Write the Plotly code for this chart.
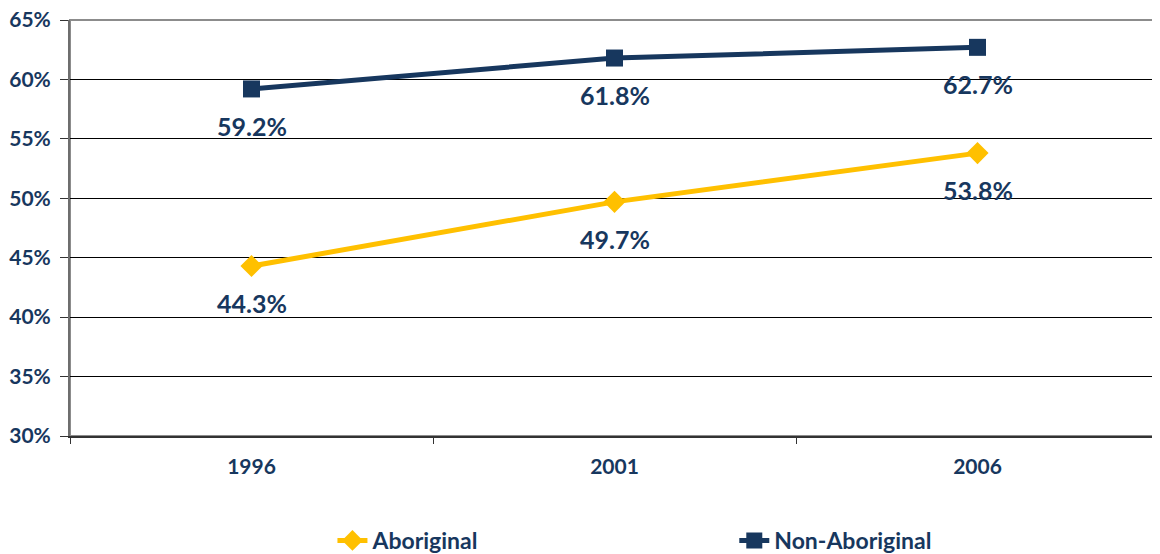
import plotly.graph_objects as go

# census years and rates (%)
years = ["1996", "2001", "2006"]
aboriginal = [44.3, 49.7, 53.8]
non_aboriginal = [59.2, 61.8, 62.7]
y_ticks = [30, 35, 40, 45, 50, 55, 60, 65]

NAVY = "#17375E"
GOLD = "#FFC000"
FONT = "Lato"

fig = go.Figure()

fig.add_trace(go.Scatter(
    x=years, y=aboriginal, name="Aboriginal", mode="lines+markers",
    line=dict(color=GOLD, width=5),
    marker=dict(symbol="diamond", size=17, color=GOLD),
    legend="legend",
))
fig.add_trace(go.Scatter(
    x=years, y=non_aboriginal, name="Non-Aboriginal", mode="lines+markers",
    line=dict(color=NAVY, width=5),
    marker=dict(symbol="square", size=17, color=NAVY),
    legend="legend2",
))

# data labels under each point (category index for x)
for series in (aboriginal, non_aboriginal):
    for i, v in enumerate(series):
        fig.add_annotation(
            x=i, y=v, text="<b>%.1f%%</b>" % v, showarrow=False, yshift=-37,
            font=dict(family=FONT, size=25, color=NAVY),
        )

# grey frame on top/right like the original
fig.add_shape(type="rect", xref="paper", yref="paper", x0=0, x1=1, y0=0, y1=1,
              line=dict(color="#8C8C8C", width=2), layer="below")

tick_font = dict(family=FONT, size=21, color=NAVY, weight="bold")

fig.update_xaxes(
    type="category", range=[-0.5, 2.5], automargin=False,
    showline=True, linecolor="#333333", linewidth=2,
    ticks="outside", tickson="boundaries", ticklen=6, tickcolor="#333333",
    ticklabelstandoff=11,
    showgrid=False, tickfont=tick_font,
)
fig.update_yaxes(
    range=[30, 65], tickvals=y_ticks, ticktext=[f"{t}%" for t in y_ticks],
    automargin=False,
    showline=True, linecolor="#6E6E6E", linewidth=2,
    ticks="outside", ticklen=8, tickcolor="#333333",
    ticklabelstandoff=5, ticklabeloverflow="allow",
    gridcolor="#000000", gridwidth=1, zeroline=False,
    tickfont=tick_font,
)

# page body adds 8px margin, so margins are shifted to compensate
leg_font = dict(family=FONT, size=23, color=NAVY, weight="bold")
fig.update_layout(
    width=1152, height=554,
    margin=dict(l=62, r=1, t=12, b=125),
    plot_bgcolor="white", paper_bgcolor="white",
    showlegend=True,
    legend=dict(orientation="h", x=0.241, xanchor="left", y=-0.249, yanchor="middle",
                font=leg_font, bgcolor="rgba(0,0,0,0)", visible=True),
    legend2=dict(orientation="h", x=0.610, xanchor="left", y=-0.249, yanchor="middle",
                 font=leg_font, bgcolor="rgba(0,0,0,0)", visible=True),
)

fig.write_html("out.html")
